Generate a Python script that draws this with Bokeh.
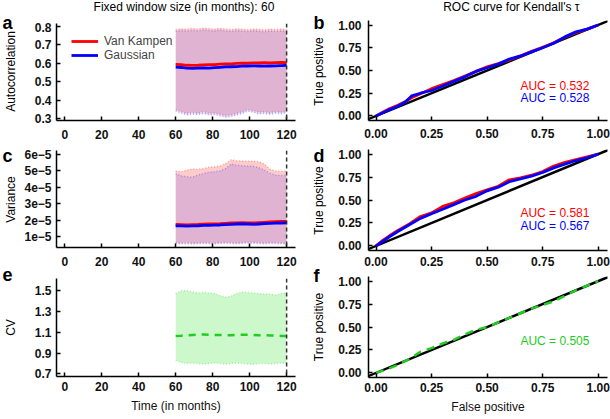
import math
from bokeh.plotting import figure
from bokeh.layouts import row, column
from bokeh.models import (Range1d, FixedTicker, CustomJSTickFormatter, PrintfTickFormatter,
                          Label, Span, Slope, Legend, LegendItem)
from bokeh.embed import file_html
from bokeh.resources import INLINE

FONT = "Liberation Sans"

# ---------------- data ----------------
months = [60, 63, 66, 69, 72, 75, 78, 81, 84, 87, 90, 93, 96, 99, 102, 105, 108, 111, 114, 117, 120]

ac_red_up = [0.784, 0.788, 0.786, 0.790, 0.787, 0.792, 0.789, 0.786, 0.790, 0.787, 0.784,
             0.788, 0.786, 0.783, 0.787, 0.785, 0.782, 0.786, 0.784, 0.787, 0.785]
ac_blue_up = [0.774, 0.778, 0.776, 0.779, 0.777, 0.781, 0.778, 0.776, 0.780, 0.776, 0.774,
              0.778, 0.775, 0.773, 0.777, 0.774, 0.772, 0.776, 0.773, 0.776, 0.774]
ac_red_lo = [0.350, 0.340, 0.330, 0.335, 0.332, 0.338, 0.330, 0.332, 0.325, 0.318, 0.322,
             0.330, 0.338, 0.350, 0.345, 0.335, 0.338, 0.333, 0.340, 0.336, 0.342]
ac_blue_lo = [0.342, 0.331, 0.322, 0.326, 0.323, 0.329, 0.321, 0.323, 0.316, 0.309, 0.313,
              0.321, 0.329, 0.341, 0.336, 0.326, 0.329, 0.324, 0.331, 0.327, 0.333]
ac_red = [0.595, 0.594, 0.590, 0.589, 0.590, 0.592, 0.593, 0.594, 0.596, 0.597, 0.598,
          0.600, 0.601, 0.602, 0.603, 0.603, 0.604, 0.603, 0.604, 0.605, 0.604]
ac_blue = [0.580, 0.578, 0.574, 0.573, 0.575, 0.576, 0.574, 0.577, 0.579, 0.581, 0.582,
           0.583, 0.585, 0.586, 0.587, 0.586, 0.585, 0.586, 0.587, 0.588, 0.589]

var_red_up = [4.99e-5, 4.95e-5, 5.05e-5, 5.12e-5, 5.10e-5, 5.15e-5, 5.22e-5, 5.25e-5, 5.30e-5, 5.45e-5, 5.68e-5,
              5.62e-5, 5.60e-5, 5.58e-5, 5.60e-5, 5.55e-5, 5.42e-5, 5.10e-5, 5.00e-5, 4.98e-5, 4.99e-5]
var_blue_up = [4.83e-5, 4.70e-5, 4.65e-5, 4.63e-5, 4.75e-5, 4.85e-5, 4.92e-5, 4.95e-5, 5.00e-5, 5.15e-5, 5.42e-5,
               5.35e-5, 5.32e-5, 5.30e-5, 5.28e-5, 5.20e-5, 5.05e-5, 4.85e-5, 4.75e-5, 4.72e-5, 4.73e-5]
var_red_lo = [0.66e-5, 0.64e-5, 0.65e-5, 0.63e-5, 0.64e-5, 0.66e-5, 0.65e-5, 0.64e-5, 0.66e-5, 0.67e-5, 0.65e-5,
              0.64e-5, 0.66e-5, 0.68e-5, 0.67e-5, 0.65e-5, 0.64e-5, 0.66e-5, 0.65e-5, 0.64e-5, 0.65e-5]
var_blue_lo = [0.60e-5, 0.58e-5, 0.59e-5, 0.57e-5, 0.58e-5, 0.60e-5, 0.59e-5, 0.58e-5, 0.60e-5, 0.61e-5, 0.59e-5,
               0.58e-5, 0.60e-5, 0.62e-5, 0.61e-5, 0.59e-5, 0.58e-5, 0.60e-5, 0.59e-5, 0.58e-5, 0.59e-5]
var_red = [1.75e-5, 1.74e-5, 1.73e-5, 1.74e-5, 1.75e-5, 1.77e-5, 1.78e-5, 1.79e-5, 1.80e-5, 1.82e-5, 1.84e-5,
           1.85e-5, 1.86e-5, 1.85e-5, 1.84e-5, 1.86e-5, 1.88e-5, 1.90e-5, 1.92e-5, 1.93e-5, 1.94e-5]
var_blue = [1.67e-5, 1.66e-5, 1.65e-5, 1.66e-5, 1.67e-5, 1.69e-5, 1.70e-5, 1.71e-5, 1.72e-5, 1.74e-5, 1.76e-5,
            1.78e-5, 1.79e-5, 1.78e-5, 1.76e-5, 1.78e-5, 1.80e-5, 1.82e-5, 1.83e-5, 1.84e-5, 1.85e-5]

cv_up = [1.475, 1.500, 1.505, 1.490, 1.480, 1.485, 1.480, 1.475, 1.455, 1.440, 1.450,
         1.475, 1.490, 1.485, 1.480, 1.475, 1.470, 1.470, 1.460, 1.475, 1.480]
cv_lo = [0.830, 0.810, 0.800, 0.805, 0.800, 0.795, 0.800, 0.805, 0.800, 0.795, 0.800,
         0.805, 0.800, 0.795, 0.790, 0.800, 0.800, 0.795, 0.800, 0.805, 0.800]
cv_mean = [1.065, 1.068, 1.072, 1.075, 1.078, 1.080, 1.078, 1.075, 1.074, 1.072, 1.073,
           1.076, 1.078, 1.077, 1.074, 1.072, 1.073, 1.070, 1.068, 1.066, 1.065]

roc_b_fpr = [0, 0.03, 0.06, 0.10, 0.13, 0.16, 0.20, 0.25, 0.30, 0.35, 0.40, 0.45, 0.50,
             0.55, 0.60, 0.65, 0.70, 0.75, 0.80, 0.85, 0.90, 0.95, 1.0]
roc_b_tpr_red = [0, 0.04, 0.08, 0.12, 0.155, 0.20, 0.245, 0.30, 0.345, 0.39, 0.44, 0.49, 0.54,
                 0.575, 0.615, 0.66, 0.71, 0.755, 0.805, 0.865, 0.915, 0.955, 1.0]
roc_b_tpr_blue = [0, 0.035, 0.07, 0.11, 0.15, 0.22, 0.25, 0.28, 0.33, 0.38, 0.43, 0.49, 0.53,
                  0.57, 0.625, 0.66, 0.705, 0.75, 0.80, 0.87, 0.925, 0.955, 1.0]

roc_d_fpr = [0, 0.03, 0.06, 0.10, 0.15, 0.20, 0.25, 0.30, 0.35, 0.40, 0.45, 0.50, 0.55,
             0.60, 0.65, 0.70, 0.75, 0.80, 0.85, 0.90, 0.95, 1.0]
roc_d_tpr_red = [0, 0.06, 0.11, 0.17, 0.24, 0.32, 0.36, 0.43, 0.47, 0.52, 0.57, 0.61, 0.65,
                 0.72, 0.74, 0.77, 0.81, 0.87, 0.91, 0.94, 0.97, 1.0]
roc_d_tpr_blue = [0, 0.05, 0.10, 0.16, 0.23, 0.30, 0.35, 0.40, 0.45, 0.50, 0.54, 0.60, 0.64,
                  0.70, 0.73, 0.76, 0.80, 0.85, 0.89, 0.93, 0.96, 1.0]

roc_f_fpr = [0, 0.05, 0.10, 0.15, 0.20, 0.25, 0.30, 0.35, 0.40, 0.45, 0.50, 0.55, 0.60,
             0.65, 0.70, 0.75, 0.80, 0.85, 0.90, 0.95, 1.0]
roc_f_tpr = [0, 0.04, 0.09, 0.15, 0.23, 0.27, 0.32, 0.36, 0.42, 0.47, 0.50, 0.55, 0.60,
             0.65, 0.70, 0.74, 0.78, 0.84, 0.90, 0.95, 1.0]

auc_b = ["AUC = 0.532", "AUC = 0.528"]
auc_d = ["AUC = 0.581", "AUC = 0.567"]
auc_f = ["AUC = 0.505"]

panel_letters_left = ["a", "c", "e"]
panel_letters_right = ["b", "d", "f"]
ylabels_left = ["Autocorrelation", "Variance", "CV"]
ylabel_right = "True positive"
title_left = "Fixed window size (in months):  60"
title_right = "ROC curve for Kendall's \u03c4"
legend_labels = ["Van Kampen", "Gaussian"]

time_ticks = [0, 20, 40, 60, 80, 100, 120]
ac_ticks = [0.3, 0.4, 0.5, 0.6, 0.7, 0.8]
var_ticks = [1e-5, 2e-5, 3e-5, 4e-5, 5e-5, 6e-5]
cv_ticks = [0.7, 0.9, 1.1, 1.3, 1.5]
roc_ticks = [0, 0.25, 0.5, 0.75, 1.0]

RED = "#ff0000"
BLUE = "#0000ff"
GREEN = "#22cc22"
LIME = "#00dd00"


def make_fig(w, h, xr, yr, mb, xticks, yticks, x_standoff, y_standoff, x_label=None):
    l, r, t, b = mb
    p = figure(width=w, height=h, x_range=Range1d(*xr), y_range=Range1d(*yr),
               output_backend="svg", toolbar_location=None,
               min_border_left=l, min_border_right=r, min_border_top=t, min_border_bottom=b)
    p.grid.visible = False
    p.outline_line_color = None
    p.background_fill_color = "white"
    p.border_fill_color = "white"
    for ax in (p.xaxis[0], p.yaxis[0]):
        ax.axis_line_width = 1.5
        ax.major_tick_line_width = 1.5
        ax.major_tick_in = 4
        ax.major_tick_out = 0
        ax.minor_tick_line_color = None
        ax.major_label_text_font = FONT
        ax.major_label_text_font_size = "12px"
        ax.major_label_text_font_style = "bold"
        ax.major_label_text_color = "#111111"
        ax.axis_label_text_font = FONT
        ax.axis_label_text_font_size = "12px"
        ax.axis_label_text_font_style = "normal"
        ax.axis_label_text_color = "#111111"
    p.xaxis[0].ticker = FixedTicker(ticks=xticks)
    p.yaxis[0].ticker = FixedTicker(ticks=yticks)
    p.xaxis[0].major_label_standoff = x_standoff
    p.yaxis[0].major_label_standoff = y_standoff
    if x_label:
        p.xaxis[0].axis_label = x_label
        p.xaxis[0].axis_label_standoff = 5
    return p


def strip(w, h):
    s = figure(width=w, height=h, x_range=Range1d(0, w), y_range=Range1d(h, 0),
               output_backend="svg", toolbar_location=None, x_axis_type=None, y_axis_type=None,
               min_border=0)
    s.grid.visible = False
    s.outline_line_color = None
    s.background_fill_color = "white"
    s.border_fill_color = "white"
    return s


def text(s, x, y, t, size="12px", style="normal", align="center", baseline="middle", angle=0.0):
    s.add_layout(Label(x=x, y=y, text=t, text_font=FONT, text_font_size=size,
                       text_font_style=style, text_align=align, text_baseline=baseline,
                       angle=angle, text_color="black"))


def ribbon(p, lo, up, color, alpha):
    p.varea(x=months, y1=lo, y2=up, fill_color=color, fill_alpha=alpha)
    p.line(months, up, line_color=color, line_alpha=0.3, line_width=1.5, line_dash="1 2")
    p.line(months, lo, line_color=color, line_alpha=0.3, line_width=1.5, line_dash="1 2")


def endline(p):
    p.add_layout(Span(location=120, dimension="height", line_color="#333333",
                      line_dash="4 3", line_width=1.5))


def diag(p):
    s = Slope(gradient=1, y_intercept=0, line_color="black", line_width=2.5)
    s.level = "underlay"
    p.add_layout(s)


def auc(p, texts, colors, ys):
    for t, c, y in zip(texts, colors, ys):
        p.add_layout(Label(x=0.65, y=y, text=t, text_font=FONT, text_font_size="12px",
                           text_color=c, text_baseline="middle", text_align="left"))


def roc_fmt(p):
    p.xaxis[0].formatter = PrintfTickFormatter(format="%.2f")
    p.yaxis[0].formatter = PrintfTickFormatter(format="%.2f")


TX = (-4.47, 124.8)
RX = (-0.034, 1.042)
RY = (-0.05, 1.05)
W1, W2 = 285, 276

# ---- a ----
pa = make_fig(W1, 120, TX, (0.2908, 0.8163), (34, 11, 1, 22), time_ticks, ac_ticks, 9, 5)
ribbon(pa, ac_red_lo, ac_red_up, RED, 0.2)
ribbon(pa, ac_blue_lo, ac_blue_up, BLUE, 0.12)
r_red = pa.line(months, ac_red, line_color=RED, line_width=2.8)
r_blue = pa.line(months, ac_blue, line_color=BLUE, line_width=2.8)
endline(pa)
leg = Legend(items=[LegendItem(label=legend_labels[0], renderers=[r_red]),
                    LegendItem(label=legend_labels[1], renderers=[r_blue])],
             location=(15, 58), border_line_color=None, background_fill_alpha=0,
             label_text_font=FONT, label_text_font_size="12px", glyph_width=27,
             glyph_height=14, label_height=14, spacing=0, padding=0, margin=0,
             label_standoff=6)
pa.add_layout(leg)

# ---- c ----
pc = make_fig(W1, 130, TX, (0.353e-5, 6.24e-5), (34, 11, 8, 25), time_ticks, var_ticks, 9, 5)
pc.yaxis[0].formatter = CustomJSTickFormatter(
    code="return tick.toExponential(0).replace('-', '\u2212');")
ribbon(pc, var_red_lo, var_red_up, RED, 0.2)
ribbon(pc, var_blue_lo, var_blue_up, BLUE, 0.12)
pc.line(months, var_red, line_color=RED, line_width=2.8)
pc.line(months, var_blue, line_color=BLUE, line_width=2.8)
endline(pc)

# ---- e ----
pe = make_fig(W1, 147, TX, (0.674, 1.62), (34, 11, 6, 43), time_ticks, cv_ticks, 5, 5,
              x_label="Time (in months)")
pe.varea(x=months, y1=cv_lo, y2=cv_up, fill_color=LIME, fill_alpha=0.2)
pe.line(months, cv_up, line_color=LIME, line_alpha=0.3, line_width=1.5, line_dash="1 2")
pe.line(months, cv_lo, line_color=LIME, line_alpha=0.3, line_width=1.5, line_dash="1 2")
pe.line(months, cv_mean, line_color=GREEN, line_width=2.5, line_dash="7 6")
endline(pe)

# ---- b ----
pb = make_fig(W2, 123, RX, RY, (34, 3, 1, 22), roc_ticks, roc_ticks, 8, 7)
roc_fmt(pb)
diag(pb)
pb.line(roc_b_fpr, roc_b_tpr_red, line_color=RED, line_width=2.8)
pb.line(roc_b_fpr, roc_b_tpr_blue, line_color=BLUE, line_width=2.8)
auc(pb, auc_b, [RED, BLUE], [0.33, 0.195])

# ---- d ----
pd_ = make_fig(W2, 130, RX, RY, (34, 3, 7, 22), roc_ticks, roc_ticks, 6, 7)
roc_fmt(pd_)
diag(pd_)
pd_.line(roc_d_fpr, roc_d_tpr_red, line_color=RED, line_width=2.8)
pd_.line(roc_d_fpr, roc_d_tpr_blue, line_color=BLUE, line_width=2.8)
auc(pd_, auc_d, [RED, BLUE], [0.36, 0.215])

# ---- f ----
pf = make_fig(W2, 147, RX, RY, (34, 3, 4, 42), roc_ticks, roc_ticks, 5, 7,
              x_label="False positive")
roc_fmt(pf)
diag(pf)
pf.line(roc_f_fpr, roc_f_tpr, line_color=GREEN, line_width=2.5, line_dash="8 6")
auc(pf, auc_f, [GREEN], [0.352])

# ---- text strips (letters, y-axis titles, column titles) ----
sl = strip(21, 419)
for t, yb in zip(panel_letters_left, [22.7, 155, 274]):
    text(sl, 2, yb, t, size="18px", style="bold", align="left", baseline="alphabetic")
for t, yc in zip(ylabels_left, [71, 199, 327]):
    text(sl, 10.5, yc, t, angle=math.pi / 2)

sr = strip(28, 419)
for t, yb in zip(panel_letters_right, [22.7, 155, 275]):
    text(sr, 7, yb, t, size="18px", style="bold", align="left", baseline="alphabetic")
for yc in [71, 200, 326.5]:
    text(sr, 12, yc, ylabel_right, angle=math.pi / 2)

t1 = strip(W1, 22)
text(t1, 154, 6, title_left)
t2 = strip(W2, 19)
text(t2, 165, 6.7, title_right)

layout = row(sl, column(t1, pa, pc, pe), sr, column(t2, pb, pd_, pf))

open("out.html", "w").write(file_html(layout, INLINE))
